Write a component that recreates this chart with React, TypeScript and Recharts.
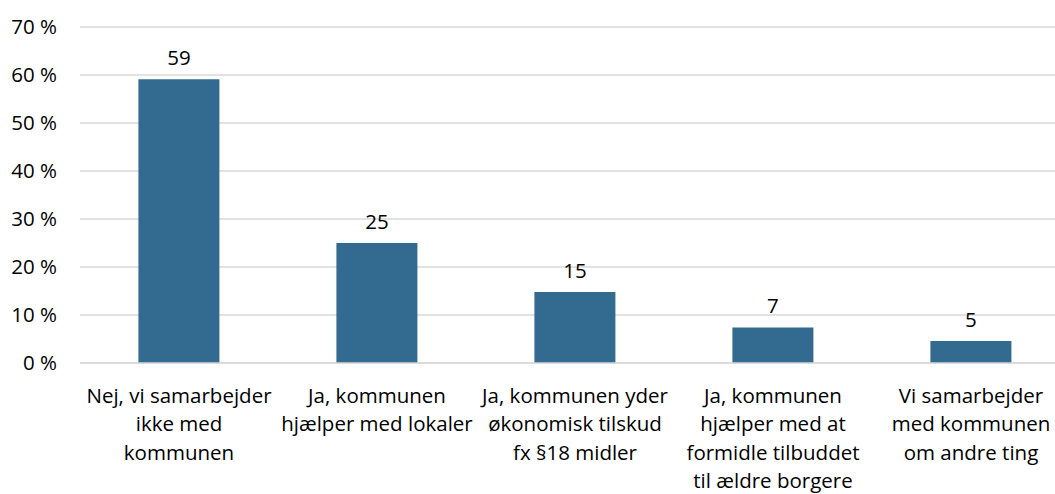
import React from "react";
import { BarChart, Bar, XAxis, YAxis, CartesianGrid, LabelList } from "recharts";

const categories: string[][] = [
  ["Nej, vi samarbejder", "ikke med", "kommunen"],
  ["Ja, kommunen", "hjælper med lokaler"],
  ["Ja, kommunen yder", "økonomisk tilskud", "fx §18 midler"],
  ["Ja, kommunen", "hjælper med at", "formidle tilbuddet", "til ældre borgere"],
  ["Vi samarbejder", "med kommunen", "om andre ting"],
];
const values: number[] = [59.1, 25, 14.8, 7.4, 4.6];
const valueLabels: string[] = ["59", "25", "15", "7", "5"];
const yTicks: number[] = [0, 10, 20, 30, 40, 50, 60, 70];

const data = categories.map((c, i) => ({
  key: String(i),
  value: values[i],
  label: valueLabels[i],
}));

const FONT = "'Open Sans', 'Noto Sans', sans-serif";
const FS = 20.5;

const XTick = (props: any) => {
  const { x, y, payload } = props;
  const lines = categories[Number(payload.value)] || [];
  return (
    <text x={x} y={y} textAnchor="middle" fill="#000" fontSize={FS} fontFamily={FONT}>
      {lines.map((l, i) => (
        <tspan key={i} x={x} y={y + 39.5 + i * 28.6}>
          {l}
        </tspan>
      ))}
    </text>
  );
};

export default function App() {
  return (
    <div
      style={{
        position: "fixed",
        left: 0,
        top: 0,
        width: 1055,
        height: 494,
        overflow: "hidden",
        background: "#fff",
      }}
    >
      <BarChart
        width={1070}
        height={494}
        data={data}
        margin={{ top: 27, right: 0, bottom: 0, left: 0 }}
        barCategoryGap="29.5%"
      >
        <CartesianGrid vertical={false} stroke="#d9d9d9" strokeWidth={1.5} />
        <XAxis
          dataKey="key"
          height={131}
          axisLine={{ stroke: "#d9d9d9", strokeWidth: 1.5 }}
          tickLine={false}
          tickSize={0}
          tickMargin={0}
          interval={0}
          tick={<XTick />}
        />
        <YAxis
          width={80}
          domain={[0, 70]}
          ticks={yTicks}
          axisLine={false}
          tickLine={false}
          tickSize={0}
          tickMargin={23}
          tickFormatter={(v: number) => `${v} %`}
          tick={{ fill: "#000", fontSize: FS, fontFamily: FONT }}
        />
        <Bar dataKey="value" fill="#336a90" isAnimationActive={false}>
          <LabelList
            dataKey="label"
            position="top"
            offset={14}
            fill="#000"
            fontSize={FS}
            fontFamily={FONT}
          />
        </Bar>
      </BarChart>
    </div>
  );
}
